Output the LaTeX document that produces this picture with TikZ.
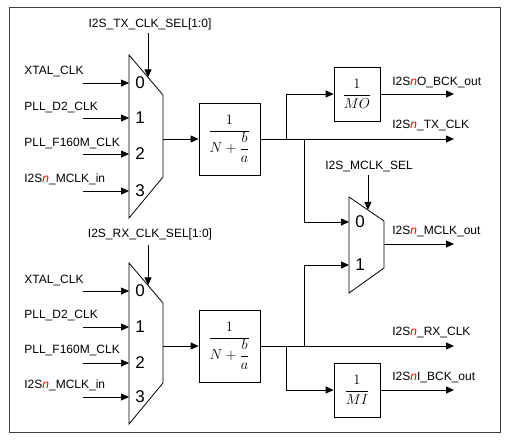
\documentclass[tikz,border=0pt]{standalone}
\usepackage{fontspec}
\setmainfont{Liberation Sans}
\usepackage{amsmath}
\usetikzlibrary{arrows.meta,calc}
\newcommand{\nred}{\textcolor{red}{\textit{n}}}

\begin{document}
\begin{tikzpicture}[x=1pt,y=-1pt,line width=0.8pt]
        \tikzstyle{sig}=[-{Triangle[length=8pt,width=7pt]}]
        \tikzstyle{lbl}=[anchor=west,inner sep=0pt,font=\fontsize{12}{14}\selectfont]
        \tikzstyle{sel}=[inner sep=0pt,font=\fontsize{12}{14}\selectfont]
        \tikzstyle{num}=[inner sep=0pt,font=\fontsize{17}{19}\selectfont]
        \tikzstyle{divbox}=[rectangle,draw,minimum width=61pt,minimum height=72pt,inner sep=0pt,font=\fontsize{15}{18}\selectfont]
        \tikzstyle{mbox}=[rectangle,draw,minimum width=46pt,minimum height=54pt,inner sep=0pt,font=\fontsize{15}{18}\selectfont]
        \useasboundingbox (0,0) rectangle (510,442);
        \draw [black!75] (9,7) rectangle (500,432);
        % TX clock mux
        \coordinate (tm1) at (129,55);
        \coordinate (tm2) at (163,95);
        \coordinate (tm3) at (163,177);
        \coordinate (tm4) at (129,218);
        \draw (tm1) -- (tm2) -- (tm3) -- (tm4) -- cycle;
        \node [sel] (tsel) at (150,24) {I2S\_TX\_CLK\_SEL[1:0]};
        \coordinate (tselpt) at ($(tm1)!0.56!(tm2)$);
        \coordinate (tseltop) at (tselpt |- 0,33);
        \draw [sig] (tseltop) -- (tselpt);
        \node [lbl] (txtal) at (24,72) {XTAL\_CLK};
        \node [lbl] (tpll) at (24,107) {PLL\_D2\_CLK};
        \node [lbl] (tf160) at (24,143) {PLL\_F160M\_CLK};
        \node [lbl] (tmin) at (24,179) {I2S\nred\_MCLK\_in};
        \node [num] (tn0) at (140,83) {0};
        \node [num] (tn1) at (140,118) {1};
        \node [num] (tn2) at (140,154) {2};
        \node [num] (tn3) at (140,191) {3};
        \coordinate (tin0) at (83,83);
        \coordinate (tin1) at (83,118);
        \coordinate (tin2) at (83,154);
        \coordinate (tin3) at (83,191);
        \draw [sig] (tin0) -- (tin0 -| tm1);
        \draw [sig] (tin1) -- (tin1 -| tm1);
        \draw [sig] (tin2) -- (tin2 -| tm1);
        \draw [sig] (tin3) -- (tin3 -| tm1);
        \node [divbox] (tdiv) at (229.5,139) {$\dfrac{1}{N+\dfrac{b}{a}}$};
        \coordinate (tmout) at (163,139);
        \draw [sig] (tmout) -- (tdiv.west);
        % TX outputs
        \coordinate (ttx) at (454,139);
        \draw [sig] (tdiv.east) -- (ttx);
        \node [lbl] (ttxl) at (392,125) {I2S\nred\_TX\_CLK};
        \node [mbox] (mo) at (357,94) {$\dfrac{1}{MO}$};
        \coordinate (tbr1) at (286,139);
        \draw [sig] (tbr1) |- (mo.west);
        \coordinate (obck) at (454,94);
        \draw [sig] (mo.east) -- (obck);
        \node [lbl] (obckl) at (392,82) {I2S\nred O\_BCK\_out};
        % MCLK mux
        \coordinate (cm1) at (349,197);
        \coordinate (cm2) at (384,221);
        \coordinate (cm3) at (384,268);
        \coordinate (cm4) at (349,293);
        \draw (cm1) -- (cm2) -- (cm3) -- (cm4) -- cycle;
        \node [lbl] (csel) at (325,166) {I2S\_MCLK\_SEL};
        \coordinate (cselpt) at ($(cm1)!0.54!(cm2)$);
        \coordinate (cseltop) at (cselpt |- 0,175);
        \draw [sig] (cseltop) -- (cselpt);
        \node [num] (cn0) at (360,222) {0};
        \node [num] (cn1) at (360,265) {1};
        \coordinate (tbr2) at (304,139);
        \draw [sig] (tbr2) |- (cn0 -| cm1);
        \coordinate (cmout) at (384,244);
        \coordinate (mclk) at (454,244);
        \draw [sig] (cmout) -- (mclk);
        \node [lbl] (mclkl) at (392,231) {I2S\nred\_MCLK\_out};
        % RX clock mux
        \coordinate (rm1) at (129,263);
        \coordinate (rm2) at (163,303);
        \coordinate (rm3) at (163,383);
        \coordinate (rm4) at (129,424);
        \draw (rm1) -- (rm2) -- (rm3) -- (rm4) -- cycle;
        \node [sel] (rsel) at (150,234) {I2S\_RX\_CLK\_SEL[1:0]};
        \coordinate (rselpt) at ($(rm1)!0.56!(rm2)$);
        \coordinate (rseltop) at (rselpt |- 0,245);
        \draw [sig] (rseltop) -- (rselpt);
        \node [lbl] (rxtal) at (24,280) {XTAL\_CLK};
        \node [lbl] (rpll) at (24,315) {PLL\_D2\_CLK};
        \node [lbl] (rf160) at (24,350) {PLL\_F160M\_CLK};
        \node [lbl] (rmin) at (24,385) {I2S\nred\_MCLK\_in};
        \node [num] (rn0) at (140,291) {0};
        \node [num] (rn1) at (140,327) {1};
        \node [num] (rn2) at (140,363) {2};
        \node [num] (rn3) at (140,397) {3};
        \coordinate (rin0) at (83,291);
        \coordinate (rin1) at (83,327);
        \coordinate (rin2) at (83,363);
        \coordinate (rin3) at (83,397);
        \draw [sig] (rin0) -- (rin0 -| rm1);
        \draw [sig] (rin1) -- (rin1 -| rm1);
        \draw [sig] (rin2) -- (rin2 -| rm1);
        \draw [sig] (rin3) -- (rin3 -| rm1);
        \node [divbox] (rdiv) at (229.5,346) {$\dfrac{1}{N+\dfrac{b}{a}}$};
        \coordinate (rmout) at (163,346);
        \draw [sig] (rmout) -- (rdiv.west);
        % RX outputs
        \coordinate (rrx) at (454,346);
        \draw [sig] (rdiv.east) -- (rrx);
        \node [lbl] (rrxl) at (392,332) {I2S\nred\_RX\_CLK};
        \coordinate (rbr2) at (304,346);
        \draw [sig] (rbr2) |- (cn1 -| cm1);
        \node [mbox] (mi) at (357,390) {$\dfrac{1}{MI}$};
        \coordinate (rbr1) at (286,346);
        \draw [sig] (rbr1) |- (mi.west);
        \coordinate (ibck) at (454,390);
        \draw [sig] (mi.east) -- (ibck);
        \node [lbl] (ibckl) at (392,377) {I2S\nred I\_BCK\_out};
    \end{tikzpicture}
\end{document}
